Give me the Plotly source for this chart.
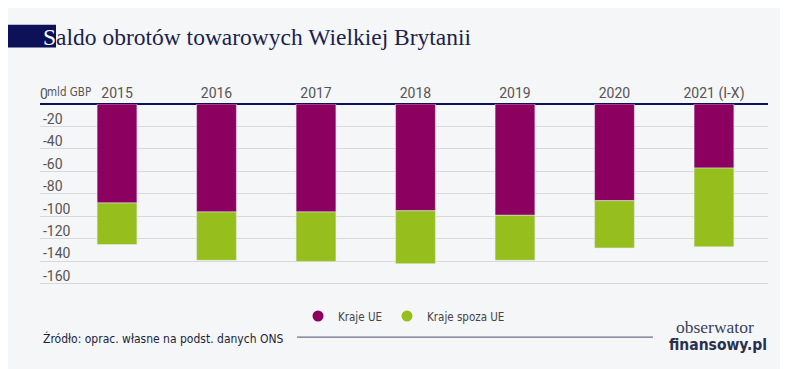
import plotly.graph_objects as go

categories = ["2015", "2016", "2017", "2018", "2019", "2020", "2021 (I-X)"]
kraje_ue = [-88, -96, -96, -95, -99, -86, -57]
kraje_spoza_ue = [-37, -43, -44, -47, -40, -42, -70]
y_ticks = [-20, -40, -60, -80, -100, -120, -140, -160]
y_ticktext = [str(v) for v in y_ticks]

OFF = 8  # page body margin
W, H = 780, 361
L, R, T, B = 32, 20, 96, 78
PW = W - L - R
PH = H - T - B
Y_MIN = -165

def px2x(sx):
    return (sx - OFF - L) / PW

def px2y(sy):
    return (H - B - (sy - OFF)) / PH

purple = "#8c0060"
green = "#96bf1e"
navy = "#0c1158"
bg = "#f5f6f8"
cond = "DejaVu Sans Condensed, DejaVu Sans, sans-serif"

def c(t):
    return "<span style='font-stretch:condensed'>" + t + "</span>"

fig = go.Figure()
fig.add_trace(go.Bar(x=categories, y=kraje_ue, marker_color=purple, width=0.4,
                     showlegend=False, name="Kraje UE"))
fig.add_trace(go.Bar(x=categories, y=kraje_spoza_ue, marker_color=green, width=0.4,
                     showlegend=False, name="Kraje spoza UE"))
fig.add_trace(go.Scatter(x=[None], y=[None], mode="markers", name=c("Kraje UE"),
                         marker=dict(color=purple, size=11, symbol="circle")))
fig.add_trace(go.Scatter(x=[None], y=[None], mode="markers", name=c("Kraje spoza UE"),
                         marker=dict(color=green, size=11, symbol="circle")))

fig.update_layout(
    width=W, height=H,
    margin=dict(l=L, r=R, t=T, b=B),
    paper_bgcolor=bg, plot_bgcolor=bg,
    barmode="relative",
    showlegend=True,
    legend=dict(orientation="h", xref="container", yref="container",
                x=(298 - OFF) / W, xanchor="left", y=1 - (316 - OFF) / H, yanchor="middle",
                font=dict(family=cond, size=11.5, color="#444"),
                itemwidth=30, bgcolor="rgba(0,0,0,0)"),
    xaxis=dict(type="category", side="top", range=[-0.774, 6.543],
               showgrid=False, zeroline=False, showline=False, ticks="",
               ticklabelstandoff=2,
               tickfont=dict(family="Roboto, sans-serif", size=14, color="#555")),
    yaxis=dict(range=[Y_MIN, 0], tickvals=y_ticks, ticktext=y_ticktext,
               ticklabelposition="inside top", ticks="", ticklabelshift=2,
               showgrid=True, gridcolor="#d9d9db", gridwidth=1,
               zeroline=True, zerolinecolor=navy, zerolinewidth=2,
               showline=False,
               tickfont=dict(family="Roboto, sans-serif", size=14, color="#555")),
    font=dict(family="Roboto, sans-serif"),
)

shapes = [
    dict(type="rect", xref="paper", yref="paper",
         x0=px2x(4), x1=px2x(56), y0=px2y(47), y1=px2y(24),
         fillcolor=navy, line=dict(width=0), layer="below"),
    dict(type="line", xref="paper", yref="paper",
         x0=px2x(297), x1=px2x(653), y0=px2y(339), y1=px2y(339),
         line=dict(color="#6b6f8a", width=1.2)),
]
fig.update_layout(shapes=shapes)

annotations = [
    dict(text="<span style='color:white'>S</span>aldo obrotów towarowych Wielkiej Brytanii",
         xref="paper", yref="paper", x=px2x(41), y=px2y(36),
         xanchor="left", yanchor="middle", showarrow=False,
         font=dict(family="Liberation Serif, DejaVu Serif, serif", size=23.5, color="#1b1f4d")),
    dict(text="0",
         xref="paper", yref="paper", x=px2x(38), y=px2y(104),
         xanchor="left", yanchor="bottom", showarrow=False,
         font=dict(family="Roboto, sans-serif", size=14, color="#555")),
    dict(text=c("mld GBP"),
         xref="paper", yref="paper", x=px2x(45), y=px2y(101),
         xanchor="left", yanchor="bottom", showarrow=False,
         font=dict(family=cond, size=11.5, color="#555")),
    dict(text=c("Źródło: oprac. własne na podst. danych ONS"),
         xref="paper", yref="paper", x=px2x(41), y=px2y(340),
         xanchor="left", yanchor="middle", showarrow=False,
         font=dict(family=cond, size=12, color="#1b1f3a")),
    dict(text="obserwator",
         xref="paper", yref="paper", x=px2x(715), y=px2y(329),
         xanchor="center", yanchor="middle", showarrow=False,
         font=dict(family="Liberation Serif, DejaVu Serif, serif", size=17.5, color="#3a3f5c")),
    dict(text=c("<b>finansowy.pl</b>"),
         xref="paper", yref="paper", x=px2x(718), y=px2y(347),
         xanchor="center", yanchor="middle", showarrow=False,
         font=dict(family=cond, size=15.5, color="#2a2f4c")),
]
fig.update_layout(annotations=annotations)

fig.write_html("out.html")
